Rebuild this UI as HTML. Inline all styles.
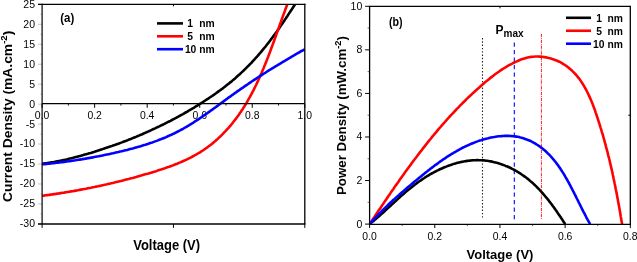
<!DOCTYPE html>
<html><head><meta charset="utf-8"><style>
html,body{margin:0;padding:0;background:#fff;}
body{width:637px;height:262px;overflow:hidden;}
svg{display:block;font-family:"Liberation Sans", sans-serif;}
</style></head><body>
<svg width="637" height="262" viewBox="0 0 637 262" xmlns="http://www.w3.org/2000/svg" font-family='"Liberation Sans", sans-serif' fill="#000"><g opacity="0.999">
<defs><clipPath id="ca"><rect x="42.10" y="4.35" width="262.70" height="219.55"/></clipPath>
<clipPath id="cb"><rect x="369.60" y="6.30" width="260.70" height="217.80"/></clipPath></defs>
<line x1="38.10" y1="4.35" x2="42.10" y2="4.35" stroke="#aaa" stroke-width="0.70"/>
<text x="35.00" y="7.75" font-size="10.50" text-anchor="end">25</text>
<line x1="40.10" y1="14.33" x2="42.10" y2="14.33" stroke="#bbb" stroke-width="0.60"/>
<line x1="38.10" y1="24.31" x2="42.10" y2="24.31" stroke="#aaa" stroke-width="0.70"/>
<text x="35.00" y="27.71" font-size="10.50" text-anchor="end">20</text>
<line x1="40.10" y1="34.29" x2="42.10" y2="34.29" stroke="#bbb" stroke-width="0.60"/>
<line x1="38.10" y1="44.27" x2="42.10" y2="44.27" stroke="#aaa" stroke-width="0.70"/>
<text x="35.00" y="47.67" font-size="10.50" text-anchor="end">15</text>
<line x1="40.10" y1="54.25" x2="42.10" y2="54.25" stroke="#bbb" stroke-width="0.60"/>
<line x1="38.10" y1="64.23" x2="42.10" y2="64.23" stroke="#aaa" stroke-width="0.70"/>
<text x="35.00" y="67.63" font-size="10.50" text-anchor="end">10</text>
<line x1="40.10" y1="74.21" x2="42.10" y2="74.21" stroke="#bbb" stroke-width="0.60"/>
<line x1="38.10" y1="84.19" x2="42.10" y2="84.19" stroke="#aaa" stroke-width="0.70"/>
<text x="35.00" y="87.59" font-size="10.50" text-anchor="end">5</text>
<line x1="40.10" y1="94.17" x2="42.10" y2="94.17" stroke="#bbb" stroke-width="0.60"/>
<line x1="38.10" y1="104.15" x2="42.10" y2="104.15" stroke="#aaa" stroke-width="0.70"/>
<text x="35.00" y="107.55" font-size="10.50" text-anchor="end">0</text>
<line x1="40.10" y1="114.12" x2="42.10" y2="114.12" stroke="#bbb" stroke-width="0.60"/>
<line x1="38.10" y1="124.10" x2="42.10" y2="124.10" stroke="#aaa" stroke-width="0.70"/>
<text x="35.00" y="127.50" font-size="10.50" text-anchor="end">-5</text>
<line x1="40.10" y1="134.08" x2="42.10" y2="134.08" stroke="#bbb" stroke-width="0.60"/>
<line x1="38.10" y1="144.06" x2="42.10" y2="144.06" stroke="#aaa" stroke-width="0.70"/>
<text x="35.00" y="147.46" font-size="10.50" text-anchor="end">-10</text>
<line x1="40.10" y1="154.04" x2="42.10" y2="154.04" stroke="#bbb" stroke-width="0.60"/>
<line x1="38.10" y1="164.02" x2="42.10" y2="164.02" stroke="#aaa" stroke-width="0.70"/>
<text x="35.00" y="167.42" font-size="10.50" text-anchor="end">-15</text>
<line x1="40.10" y1="174.00" x2="42.10" y2="174.00" stroke="#bbb" stroke-width="0.60"/>
<line x1="38.10" y1="183.98" x2="42.10" y2="183.98" stroke="#aaa" stroke-width="0.70"/>
<text x="35.00" y="187.38" font-size="10.50" text-anchor="end">-20</text>
<line x1="40.10" y1="193.96" x2="42.10" y2="193.96" stroke="#bbb" stroke-width="0.60"/>
<line x1="38.10" y1="203.94" x2="42.10" y2="203.94" stroke="#aaa" stroke-width="0.70"/>
<text x="35.00" y="207.34" font-size="10.50" text-anchor="end">-25</text>
<line x1="40.10" y1="213.92" x2="42.10" y2="213.92" stroke="#bbb" stroke-width="0.60"/>
<line x1="38.10" y1="223.90" x2="42.10" y2="223.90" stroke="#aaa" stroke-width="0.70"/>
<text x="35.00" y="227.30" font-size="10.50" text-anchor="end">-30</text>
<line x1="42.10" y1="103.60" x2="42.10" y2="107.80" stroke="#000" stroke-width="1.00"/>
<text x="42.10" y="119.00" font-size="10.40" text-anchor="middle">0.0</text>
<line x1="68.37" y1="103.60" x2="68.37" y2="105.60" stroke="#000" stroke-width="0.90"/>
<line x1="94.64" y1="103.60" x2="94.64" y2="107.80" stroke="#000" stroke-width="1.00"/>
<text x="94.64" y="119.00" font-size="10.40" text-anchor="middle">0.2</text>
<line x1="120.91" y1="103.60" x2="120.91" y2="105.60" stroke="#000" stroke-width="0.90"/>
<line x1="147.18" y1="103.60" x2="147.18" y2="107.80" stroke="#000" stroke-width="1.00"/>
<text x="147.18" y="119.00" font-size="10.40" text-anchor="middle">0.4</text>
<line x1="173.45" y1="103.60" x2="173.45" y2="105.60" stroke="#000" stroke-width="0.90"/>
<line x1="199.72" y1="103.60" x2="199.72" y2="107.80" stroke="#000" stroke-width="1.00"/>
<text x="199.72" y="119.00" font-size="10.40" text-anchor="middle">0.6</text>
<line x1="225.99" y1="103.60" x2="225.99" y2="105.60" stroke="#000" stroke-width="0.90"/>
<line x1="252.26" y1="103.60" x2="252.26" y2="107.80" stroke="#000" stroke-width="1.00"/>
<text x="252.26" y="119.00" font-size="10.40" text-anchor="middle">0.8</text>
<line x1="278.53" y1="103.60" x2="278.53" y2="105.60" stroke="#000" stroke-width="0.90"/>
<line x1="304.80" y1="103.60" x2="304.80" y2="107.80" stroke="#000" stroke-width="1.00"/>
<text x="304.80" y="119.00" font-size="10.40" text-anchor="middle">1.0</text>
<line x1="42.10" y1="223.90" x2="42.10" y2="227.90" stroke="#000" stroke-width="1.00"/>
<line x1="173.45" y1="223.90" x2="173.45" y2="227.90" stroke="#000" stroke-width="1.00"/>
<line x1="304.80" y1="223.90" x2="304.80" y2="227.90" stroke="#000" stroke-width="1.00"/>
<line x1="173.45" y1="4.35" x2="173.45" y2="6.35" stroke="#000" stroke-width="1.00"/>
<g clip-path="url(#ca)">
<path d="M42.1,163.8 L43.6,163.6 L45.2,163.4 L46.7,163.2 L48.3,162.9 L49.8,162.7 L51.4,162.4 L52.9,162.2 L54.4,161.9 L56.0,161.6 L57.5,161.3 L59.0,161.0 L60.5,160.7 L62.1,160.4 L63.6,160.0 L65.1,159.7 L66.6,159.4 L68.2,159.0 L69.7,158.6 L71.2,158.3 L72.7,157.9 L74.2,157.5 L75.7,157.1 L77.3,156.7 L78.8,156.3 L80.3,155.9 L81.8,155.5 L83.3,155.1 L84.8,154.6 L86.3,154.2 L87.8,153.8 L89.3,153.3 L90.8,152.9 L92.3,152.4 L93.8,152.0 L95.3,151.5 L96.8,151.0 L98.3,150.6 L99.8,150.1 L101.3,149.6 L102.7,149.1 L104.2,148.6 L105.7,148.1 L107.2,147.6 L108.7,147.1 L110.2,146.6 L111.6,146.1 L113.1,145.6 L114.6,145.1 L116.1,144.5 L117.5,144.0 L119.0,143.5 L120.5,142.9 L121.9,142.4 L123.4,141.8 L124.9,141.2 L126.3,140.7 L127.8,140.1 L129.2,139.5 L130.7,139.0 L132.1,138.4 L133.6,137.8 L135.0,137.2 L136.5,136.6 L137.9,136.0 L139.4,135.4 L140.8,134.8 L142.2,134.2 L143.7,133.5 L145.1,132.9 L146.5,132.3 L148.0,131.6 L149.4,131.0 L150.8,130.4 L152.2,129.7 L153.6,129.0 L155.1,128.4 L156.5,127.7 L157.9,127.0 L159.3,126.4 L160.7,125.7 L162.1,125.0 L163.5,124.3 L164.9,123.6 L166.3,122.9 L167.7,122.2 L169.1,121.5 L170.5,120.8 L171.9,120.0 L173.2,119.3 L174.6,118.6 L176.0,117.9 L177.4,117.1 L178.8,116.4 L180.1,115.6 L181.5,114.8 L182.9,114.1 L184.2,113.3 L185.6,112.5 L186.9,111.8 L188.3,111.0 L189.6,110.2 L191.0,109.4 L192.3,108.6 L193.7,107.8 L195.0,107.0 L196.3,106.2 L197.7,105.3 L199.0,104.5 L200.3,103.7 L201.7,102.8 L203.0,102.0 L204.3,101.2 L205.6,100.3 L206.9,99.4 L208.2,98.6 L209.5,97.7 L210.8,96.8 L212.1,96.0 L213.4,95.1 L214.7,94.2 L216.0,93.3 L217.2,92.4 L218.5,91.4 L219.8,90.5 L221.0,89.6 L222.3,88.7 L223.5,87.7 L224.8,86.8 L226.0,85.8 L227.2,84.8 L228.4,83.9 L229.6,82.9 L230.9,81.9 L232.1,80.9 L233.2,79.9 L234.4,78.9 L235.6,77.9 L236.8,76.8 L237.9,75.8 L239.1,74.8 L240.3,73.7 L241.4,72.6 L242.5,71.6 L243.7,70.5 L244.8,69.4 L245.9,68.3 L247.0,67.2 L248.1,66.1 L249.2,65.0 L250.3,63.9 L251.4,62.8 L252.4,61.6 L253.5,60.5 L254.5,59.3 L255.6,58.2 L256.6,57.0 L257.7,55.9 L258.7,54.7 L259.7,53.5 L260.7,52.3 L261.7,51.1 L262.7,49.9 L263.7,48.7 L264.7,47.5 L265.7,46.3 L266.7,45.0 L267.6,43.8 L268.6,42.6 L269.6,41.3 L270.5,40.1 L271.4,38.8 L272.4,37.6 L273.3,36.3 L274.2,35.1 L275.2,33.8 L276.1,32.5 L277.0,31.3 L277.9,30.0 L278.8,28.7 L279.7,27.4 L280.6,26.1 L281.5,24.8 L282.4,23.5 L283.2,22.2 L284.1,20.9 L285.0,19.6 L285.9,18.3 L286.7,17.0 L287.6,15.7 L288.4,14.4 L289.3,13.1 L290.2,11.8 L291.0,10.5 L291.9,9.2 L292.7,7.9 L293.6,6.6 L294.4,5.3 L295.2,4.0 L296.1,2.6 L296.5,2.0" fill="none" stroke="#000" stroke-width="2.60" stroke-linejoin="round"/>
<path d="M42.1,195.8 L43.8,195.6 L45.5,195.3 L47.2,195.1 L48.9,194.9 L50.6,194.6 L52.3,194.4 L54.0,194.1 L55.7,193.9 L57.4,193.6 L59.1,193.4 L60.8,193.1 L62.5,192.8 L64.2,192.6 L65.9,192.3 L67.6,192.0 L69.3,191.7 L71.0,191.4 L72.6,191.2 L74.3,190.9 L76.0,190.6 L77.7,190.3 L79.4,189.9 L81.1,189.6 L82.8,189.3 L84.4,189.0 L86.1,188.7 L87.8,188.3 L89.5,188.0 L91.1,187.7 L92.8,187.3 L94.5,187.0 L96.2,186.6 L97.8,186.3 L99.5,185.9 L101.2,185.6 L102.9,185.2 L104.5,184.8 L106.2,184.5 L107.9,184.1 L109.5,183.7 L111.2,183.3 L112.9,182.9 L114.5,182.5 L116.2,182.1 L117.9,181.7 L119.5,181.3 L121.2,180.9 L122.8,180.5 L124.5,180.1 L126.2,179.6 L127.8,179.2 L129.5,178.8 L131.1,178.3 L132.8,177.9 L134.5,177.4 L136.1,177.0 L137.8,176.5 L139.4,176.0 L141.1,175.6 L142.7,175.1 L144.4,174.6 L146.1,174.1 L147.7,173.7 L149.4,173.2 L151.0,172.7 L152.7,172.2 L154.3,171.7 L156.0,171.2 L157.6,170.6 L159.3,170.1 L160.9,169.6 L162.5,169.0 L164.2,168.5 L165.8,167.9 L167.4,167.3 L169.1,166.8 L170.7,166.2 L172.3,165.6 L173.9,165.0 L175.5,164.3 L177.1,163.7 L178.7,163.0 L180.3,162.4 L181.8,161.7 L183.4,161.0 L185.0,160.3 L186.5,159.6 L188.0,158.8 L189.6,158.1 L191.1,157.3 L192.6,156.5 L194.1,155.7 L195.6,154.9 L197.1,154.0 L198.5,153.2 L200.0,152.3 L201.4,151.4 L202.9,150.5 L204.3,149.5 L205.7,148.5 L207.1,147.5 L208.4,146.5 L209.8,145.5 L211.2,144.4 L212.5,143.4 L213.8,142.3 L215.1,141.2 L216.4,140.0 L217.7,138.9 L218.9,137.7 L220.2,136.6 L221.4,135.4 L222.6,134.2 L223.8,132.9 L225.0,131.7 L226.2,130.4 L227.3,129.2 L228.5,127.9 L229.6,126.6 L230.7,125.3 L231.8,124.0 L232.8,122.7 L233.9,121.3 L234.9,120.0 L236.0,118.6 L237.0,117.3 L238.0,115.9 L239.0,114.5 L239.9,113.1 L240.9,111.7 L241.8,110.3 L242.8,108.9 L243.7,107.4 L244.6,106.0 L245.5,104.5 L246.4,103.1 L247.2,101.6 L248.1,100.1 L248.9,98.7 L249.8,97.2 L250.6,95.7 L251.4,94.2 L252.2,92.6 L253.0,91.1 L253.8,89.6 L254.5,88.1 L255.3,86.5 L256.1,85.0 L256.8,83.4 L257.5,81.9 L258.3,80.3 L259.0,78.8 L259.7,77.2 L260.4,75.6 L261.1,74.0 L261.8,72.5 L262.4,70.9 L263.1,69.3 L263.8,67.7 L264.4,66.1 L265.1,64.5 L265.7,62.9 L266.4,61.3 L267.0,59.7 L267.6,58.1 L268.3,56.4 L268.9,54.8 L269.5,53.2 L270.1,51.6 L270.7,50.0 L271.3,48.3 L271.9,46.7 L272.5,45.1 L273.1,43.5 L273.7,41.8 L274.3,40.2 L274.9,38.6 L275.5,37.0 L276.1,35.4 L276.6,33.7 L277.2,32.1 L277.8,30.5 L278.4,28.9 L279.0,27.3 L279.5,25.6 L280.1,24.0 L280.7,22.4 L281.3,20.8 L281.8,19.2 L282.4,17.6 L283.0,16.0 L283.6,14.4 L284.2,12.8 L284.8,11.2 L285.3,9.6 L285.9,8.1 L286.5,6.5 L287.1,4.9 L287.7,3.3 L288.0,2.6" fill="none" stroke="#f00" stroke-width="2.60" stroke-linejoin="round"/>
<path d="M42.1,164.4 L43.6,164.3 L45.0,164.1 L46.5,164.0 L47.9,163.8 L49.4,163.7 L50.8,163.5 L52.3,163.3 L53.7,163.2 L55.2,163.0 L56.6,162.8 L58.1,162.6 L59.5,162.5 L61.0,162.3 L62.4,162.1 L63.9,161.9 L65.3,161.7 L66.8,161.5 L68.2,161.3 L69.7,161.1 L71.1,160.9 L72.6,160.7 L74.0,160.5 L75.4,160.3 L76.9,160.0 L78.3,159.8 L79.8,159.6 L81.2,159.4 L82.7,159.1 L84.1,158.9 L85.6,158.6 L87.0,158.4 L88.4,158.1 L89.9,157.9 L91.3,157.6 L92.8,157.4 L94.2,157.1 L95.6,156.8 L97.1,156.5 L98.5,156.3 L100.0,156.0 L101.4,155.7 L102.8,155.4 L104.3,155.1 L105.7,154.8 L107.1,154.5 L108.6,154.2 L110.0,153.9 L111.4,153.6 L112.9,153.3 L114.3,152.9 L115.7,152.6 L117.2,152.3 L118.6,152.0 L120.0,151.6 L121.5,151.3 L122.9,150.9 L124.3,150.6 L125.7,150.2 L127.2,149.9 L128.6,149.5 L130.0,149.1 L131.4,148.7 L132.8,148.4 L134.3,148.0 L135.7,147.6 L137.1,147.2 L138.5,146.8 L139.9,146.4 L141.3,146.0 L142.7,145.5 L144.1,145.1 L145.5,144.7 L146.9,144.2 L148.3,143.8 L149.7,143.3 L151.1,142.8 L152.5,142.4 L153.8,141.9 L155.2,141.4 L156.6,140.9 L157.9,140.4 L159.3,139.8 L160.7,139.3 L162.0,138.8 L163.4,138.2 L164.7,137.7 L166.1,137.1 L167.4,136.5 L168.7,135.9 L170.0,135.3 L171.4,134.7 L172.7,134.1 L174.0,133.5 L175.3,132.8 L176.6,132.2 L177.9,131.5 L179.2,130.8 L180.4,130.2 L181.7,129.5 L183.0,128.8 L184.3,128.0 L185.5,127.3 L186.8,126.6 L188.0,125.8 L189.3,125.1 L190.5,124.3 L191.7,123.6 L193.0,122.8 L194.2,122.0 L195.4,121.2 L196.7,120.4 L197.9,119.6 L199.1,118.8 L200.3,118.0 L201.5,117.2 L202.7,116.3 L203.9,115.5 L205.1,114.7 L206.3,113.8 L207.5,113.0 L208.7,112.1 L209.9,111.3 L211.1,110.4 L212.3,109.6 L213.5,108.7 L214.7,107.8 L215.9,107.0 L217.1,106.1 L218.3,105.2 L219.4,104.4 L220.6,103.5 L221.8,102.6 L223.0,101.8 L224.2,100.9 L225.4,100.0 L226.6,99.2 L227.7,98.3 L228.9,97.4 L230.1,96.6 L231.3,95.7 L232.5,94.8 L233.7,94.0 L234.9,93.1 L236.1,92.3 L237.3,91.4 L238.5,90.6 L239.7,89.8 L240.9,88.9 L242.1,88.1 L243.3,87.3 L244.5,86.4 L245.7,85.6 L246.9,84.8 L248.1,84.0 L249.3,83.1 L250.5,82.3 L251.7,81.5 L253.0,80.7 L254.2,79.9 L255.4,79.1 L256.6,78.3 L257.8,77.5 L259.1,76.7 L260.3,75.9 L261.5,75.1 L262.7,74.3 L264.0,73.5 L265.2,72.8 L266.4,72.0 L267.7,71.2 L268.9,70.4 L270.1,69.7 L271.4,68.9 L272.6,68.1 L273.9,67.4 L275.1,66.6 L276.4,65.8 L277.6,65.1 L278.9,64.3 L280.1,63.6 L281.4,62.8 L282.6,62.0 L283.9,61.3 L285.1,60.6 L286.4,59.8 L287.6,59.1 L288.9,58.3 L290.2,57.6 L291.4,56.8 L292.7,56.1 L294.0,55.4 L295.2,54.6 L296.5,53.9 L297.8,53.2 L299.1,52.5 L300.3,51.7 L301.6,51.0 L302.9,50.3 L304.2,49.6 L304.8,49.2" fill="none" stroke="#00f" stroke-width="2.60" stroke-linejoin="round"/>
</g>
<line x1="42.10" y1="103.60" x2="304.80" y2="103.60" stroke="#000" stroke-width="1.30"/>
<line x1="38.00" y1="4.35" x2="305.45" y2="4.35" stroke="#000" stroke-width="1.30"/>
<line x1="38.00" y1="224.00" x2="305.45" y2="224.00" stroke="#000" stroke-width="1.50"/>
<line x1="42.10" y1="3.70" x2="42.10" y2="223.90" stroke="#000" stroke-width="1.20"/>
<line x1="304.80" y1="3.70" x2="304.80" y2="223.90" stroke="#000" stroke-width="1.30"/>
<line x1="157.00" y1="23.40" x2="183.00" y2="23.40" stroke="#000" stroke-width="2.60"/>
<text x="187.20" y="27.20" font-size="10.30" font-weight="bold">1</text>
<text x="199.20" y="27.20" font-size="10.30" font-weight="bold">nm</text>
<line x1="157.00" y1="36.30" x2="183.00" y2="36.30" stroke="#f00" stroke-width="2.60"/>
<text x="187.20" y="40.10" font-size="10.30" font-weight="bold">5</text>
<text x="199.20" y="40.10" font-size="10.30" font-weight="bold">nm</text>
<line x1="157.00" y1="49.20" x2="183.00" y2="49.20" stroke="#00f" stroke-width="2.60"/>
<text x="184.90" y="53.00" font-size="10.30" font-weight="bold">10</text>
<text x="199.20" y="53.00" font-size="10.30" font-weight="bold">nm</text>
<text transform="translate(60.2,22.2) scale(1,1.06)" font-size="11.5" font-weight="bold">(a)</text>
<text transform="translate(133.2,249.6) scale(1,1.08)" font-size="13.00" font-weight="bold">Voltage (V)</text>
<text transform="translate(12.1,202.00) scale(1,1.064) rotate(-90)" font-size="13.00" font-weight="bold">Current Density (mA.cm<tspan font-size="9" dy="-5">-2</tspan><tspan dy="5">)</tspan></text>
<line x1="365.10" y1="224.10" x2="369.60" y2="224.10" stroke="#000" stroke-width="1.00"/>
<text x="362.30" y="227.50" font-size="10.50" text-anchor="end">0</text>
<line x1="367.60" y1="202.32" x2="369.60" y2="202.32" stroke="#444" stroke-width="0.80"/>
<line x1="365.10" y1="180.54" x2="369.60" y2="180.54" stroke="#000" stroke-width="1.00"/>
<text x="362.30" y="183.94" font-size="10.50" text-anchor="end">2</text>
<line x1="367.60" y1="158.76" x2="369.60" y2="158.76" stroke="#444" stroke-width="0.80"/>
<line x1="365.10" y1="136.98" x2="369.60" y2="136.98" stroke="#000" stroke-width="1.00"/>
<text x="362.30" y="140.38" font-size="10.50" text-anchor="end">4</text>
<line x1="367.60" y1="115.20" x2="369.60" y2="115.20" stroke="#444" stroke-width="0.80"/>
<line x1="365.10" y1="93.42" x2="369.60" y2="93.42" stroke="#000" stroke-width="1.00"/>
<text x="362.30" y="96.82" font-size="10.50" text-anchor="end">6</text>
<line x1="367.60" y1="71.64" x2="369.60" y2="71.64" stroke="#444" stroke-width="0.80"/>
<line x1="365.10" y1="49.86" x2="369.60" y2="49.86" stroke="#000" stroke-width="1.00"/>
<text x="362.30" y="53.26" font-size="10.50" text-anchor="end">8</text>
<line x1="367.60" y1="28.08" x2="369.60" y2="28.08" stroke="#444" stroke-width="0.80"/>
<line x1="365.10" y1="6.30" x2="369.60" y2="6.30" stroke="#000" stroke-width="1.00"/>
<text x="362.30" y="9.70" font-size="10.50" text-anchor="end">10</text>
<line x1="369.60" y1="224.10" x2="369.60" y2="228.10" stroke="#000" stroke-width="1.00"/>
<text x="369.60" y="239.60" font-size="10.40" text-anchor="middle">0.0</text>
<line x1="402.19" y1="224.10" x2="402.19" y2="226.10" stroke="#444" stroke-width="0.80"/>
<line x1="434.77" y1="224.10" x2="434.77" y2="228.10" stroke="#000" stroke-width="1.00"/>
<text x="434.77" y="239.60" font-size="10.40" text-anchor="middle">0.2</text>
<line x1="467.36" y1="224.10" x2="467.36" y2="226.10" stroke="#444" stroke-width="0.80"/>
<line x1="499.95" y1="224.10" x2="499.95" y2="228.10" stroke="#000" stroke-width="1.00"/>
<text x="499.95" y="239.60" font-size="10.40" text-anchor="middle">0.4</text>
<line x1="532.54" y1="224.10" x2="532.54" y2="226.10" stroke="#444" stroke-width="0.80"/>
<line x1="565.12" y1="224.10" x2="565.12" y2="228.10" stroke="#000" stroke-width="1.00"/>
<text x="565.12" y="239.60" font-size="10.40" text-anchor="middle">0.6</text>
<line x1="597.71" y1="224.10" x2="597.71" y2="226.10" stroke="#444" stroke-width="0.80"/>
<line x1="630.30" y1="224.10" x2="630.30" y2="228.10" stroke="#000" stroke-width="1.00"/>
<text x="630.30" y="239.60" font-size="10.40" text-anchor="middle">0.8</text>
<line x1="499.95" y1="6.30" x2="499.95" y2="8.30" stroke="#000" stroke-width="1.00"/>
<line x1="628.30" y1="115.20" x2="630.30" y2="115.20" stroke="#000" stroke-width="1.00"/>
<line x1="482.50" y1="38.00" x2="482.50" y2="218.60" stroke="#222" stroke-width="1.10" stroke-dasharray="1.4 1.9"/>
<line x1="514.30" y1="42.50" x2="514.30" y2="222.20" stroke="#00f" stroke-width="1.10" stroke-dasharray="4.2 3.3"/>
<line x1="541.40" y1="34.00" x2="541.40" y2="219.30" stroke="#f00" stroke-width="0.90" stroke-dasharray="3.2 0.9 0.8 0.9"/>
<g clip-path="url(#cb)">
<path d="M369.6,224.1 L370.5,223.4 L371.5,222.6 L372.4,221.9 L373.3,221.1 L374.2,220.4 L375.1,219.6 L376.0,218.8 L376.9,218.0 L377.8,217.3 L378.7,216.5 L379.6,215.7 L380.5,214.9 L381.4,214.1 L382.3,213.3 L383.2,212.5 L384.1,211.7 L385.0,210.9 L385.8,210.0 L386.7,209.2 L387.6,208.4 L388.5,207.6 L389.4,206.8 L390.3,206.0 L391.2,205.1 L392.0,204.3 L392.9,203.5 L393.8,202.7 L394.7,201.9 L395.6,201.0 L396.5,200.2 L397.4,199.4 L398.3,198.6 L399.2,197.8 L400.1,196.9 L401.0,196.1 L401.9,195.3 L402.9,194.5 L403.8,193.7 L404.7,192.9 L405.6,192.1 L406.5,191.3 L407.5,190.5 L408.4,189.8 L409.4,189.0 L410.3,188.2 L411.3,187.4 L412.2,186.7 L413.2,185.9 L414.2,185.2 L415.1,184.4 L416.1,183.7 L417.1,182.9 L418.1,182.2 L419.1,181.5 L420.1,180.8 L421.2,180.1 L422.2,179.4 L423.2,178.7 L424.3,178.0 L425.3,177.3 L426.3,176.7 L427.4,176.0 L428.5,175.4 L429.5,174.7 L430.6,174.1 L431.7,173.5 L432.8,172.9 L433.9,172.3 L435.0,171.7 L436.1,171.2 L437.2,170.6 L438.3,170.1 L439.4,169.5 L440.5,169.0 L441.7,168.5 L442.8,168.0 L443.9,167.5 L445.1,167.0 L446.2,166.6 L447.4,166.1 L448.5,165.7 L449.7,165.3 L450.8,164.9 L452.0,164.5 L453.1,164.1 L454.3,163.8 L455.5,163.4 L456.6,163.1 L457.8,162.8 L459.0,162.5 L460.1,162.2 L461.3,161.9 L462.5,161.7 L463.7,161.5 L464.9,161.3 L466.0,161.1 L467.2,160.9 L468.4,160.7 L469.6,160.6 L470.8,160.5 L471.9,160.4 L473.1,160.3 L474.3,160.2 L475.5,160.2 L476.7,160.1 L477.9,160.1 L479.0,160.2 L480.2,160.2 L481.4,160.2 L482.6,160.3 L483.8,160.4 L484.9,160.5 L486.1,160.7 L487.3,160.8 L488.5,161.0 L489.6,161.2 L490.8,161.4 L492.0,161.6 L493.1,161.9 L494.3,162.2 L495.4,162.5 L496.6,162.8 L497.7,163.1 L498.9,163.4 L500.0,163.8 L501.2,164.2 L502.3,164.6 L503.4,165.0 L504.5,165.4 L505.6,165.9 L506.8,166.3 L507.9,166.8 L509.0,167.3 L510.1,167.8 L511.2,168.3 L512.2,168.9 L513.3,169.4 L514.4,170.0 L515.5,170.6 L516.5,171.2 L517.6,171.8 L518.6,172.5 L519.7,173.1 L520.7,173.8 L521.7,174.5 L522.7,175.2 L523.7,175.9 L524.7,176.6 L525.7,177.3 L526.7,178.1 L527.7,178.8 L528.6,179.6 L529.6,180.4 L530.5,181.2 L531.5,182.0 L532.4,182.8 L533.3,183.6 L534.2,184.5 L535.1,185.3 L536.0,186.2 L536.9,187.1 L537.8,188.0 L538.6,188.8 L539.5,189.7 L540.3,190.7 L541.2,191.6 L542.0,192.5 L542.8,193.4 L543.6,194.4 L544.4,195.3 L545.2,196.3 L546.0,197.2 L546.8,198.2 L547.6,199.1 L548.4,200.1 L549.1,201.1 L549.9,202.1 L550.6,203.0 L551.4,204.0 L552.1,205.0 L552.8,206.0 L553.6,207.0 L554.3,208.0 L555.0,209.0 L555.7,210.0 L556.4,210.9 L557.1,211.9 L557.7,212.9 L558.4,213.9 L559.1,214.9 L559.8,215.9 L560.4,216.9 L561.1,217.8 L561.7,218.8 L562.4,219.8 L563.0,220.8 L563.6,221.7 L564.3,222.7 L564.9,223.6 L565.2,224.1" fill="none" stroke="#000" stroke-width="2.60" stroke-linejoin="round"/>
<path d="M369.6,224.1 L370.8,222.2 L372.1,220.4 L373.3,218.5 L374.6,216.7 L375.8,214.8 L377.0,213.0 L378.3,211.1 L379.5,209.3 L380.8,207.4 L382.0,205.5 L383.3,203.7 L384.5,201.9 L385.8,200.0 L387.0,198.2 L388.3,196.3 L389.6,194.5 L390.8,192.6 L392.1,190.8 L393.4,189.0 L394.6,187.1 L395.9,185.3 L397.2,183.5 L398.5,181.7 L399.7,179.8 L401.0,178.0 L402.3,176.2 L403.6,174.4 L404.9,172.6 L406.2,170.8 L407.5,169.0 L408.8,167.2 L410.2,165.4 L411.5,163.6 L412.8,161.8 L414.1,160.0 L415.5,158.2 L416.8,156.5 L418.1,154.7 L419.5,152.9 L420.9,151.2 L422.2,149.4 L423.6,147.6 L425.0,145.9 L426.3,144.2 L427.7,142.4 L429.1,140.7 L430.5,139.0 L431.9,137.2 L433.3,135.5 L434.7,133.8 L436.2,132.1 L437.6,130.4 L439.0,128.7 L440.5,127.0 L441.9,125.3 L443.4,123.7 L444.9,122.0 L446.3,120.3 L447.8,118.7 L449.3,117.0 L450.8,115.4 L452.3,113.8 L453.9,112.1 L455.4,110.5 L456.9,108.9 L458.5,107.3 L460.0,105.7 L461.6,104.1 L463.2,102.5 L464.8,101.0 L466.3,99.4 L467.9,97.8 L469.6,96.3 L471.2,94.8 L472.8,93.2 L474.5,91.7 L476.1,90.2 L477.8,88.7 L479.5,87.2 L481.1,85.7 L482.8,84.2 L484.5,82.7 L486.3,81.3 L488.0,79.9 L489.8,78.4 L491.5,77.1 L493.3,75.7 L495.1,74.3 L496.9,73.0 L498.8,71.7 L500.6,70.4 L502.5,69.2 L504.4,68.0 L506.3,66.8 L508.2,65.7 L510.2,64.6 L512.2,63.6 L514.2,62.5 L516.2,61.6 L518.3,60.7 L520.3,59.8 L522.4,59.1 L524.6,58.4 L526.7,57.8 L528.9,57.3 L531.1,56.9 L533.3,56.7 L535.5,56.5 L537.7,56.5 L539.9,56.6 L542.1,56.8 L544.3,57.1 L546.5,57.4 L548.7,57.9 L550.9,58.5 L553.0,59.2 L555.1,60.0 L557.2,60.8 L559.2,61.7 L561.1,62.7 L563.0,63.8 L564.9,65.0 L566.7,66.2 L568.4,67.5 L570.1,68.9 L571.7,70.3 L573.2,71.8 L574.7,73.4 L576.2,75.0 L577.5,76.6 L578.9,78.3 L580.2,80.1 L581.4,81.9 L582.6,83.7 L583.8,85.6 L584.9,87.6 L586.0,89.5 L587.0,91.5 L588.0,93.5 L589.0,95.6 L589.9,97.6 L590.8,99.7 L591.7,101.8 L592.6,104.0 L593.4,106.1 L594.2,108.3 L595.0,110.4 L595.7,112.6 L596.5,114.8 L597.2,117.0 L597.9,119.1 L598.6,121.3 L599.3,123.5 L600.0,125.6 L600.6,127.8 L601.3,129.9 L601.9,132.1 L602.6,134.2 L603.2,136.4 L603.8,138.5 L604.4,140.7 L605.0,142.8 L605.6,144.9 L606.1,147.1 L606.7,149.2 L607.3,151.3 L607.8,153.4 L608.3,155.6 L608.9,157.7 L609.4,159.8 L609.9,162.0 L610.4,164.1 L610.9,166.2 L611.4,168.4 L611.9,170.5 L612.4,172.6 L612.8,174.8 L613.3,176.9 L613.7,179.0 L614.2,181.2 L614.6,183.3 L615.1,185.5 L615.5,187.7 L615.9,189.8 L616.4,192.0 L616.8,194.2 L617.2,196.3 L617.6,198.5 L618.0,200.7 L618.4,202.9 L618.8,205.1 L619.2,207.3 L619.6,209.5 L620.0,211.8 L620.4,214.0 L620.7,216.2 L621.1,218.5 L621.5,220.7 L621.9,223.0 L622.1,224.1" fill="none" stroke="#f00" stroke-width="2.60" stroke-linejoin="round"/>
<path d="M369.6,224.1 L370.6,223.0 L371.6,221.8 L372.6,220.7 L373.6,219.6 L374.6,218.5 L375.6,217.4 L376.7,216.3 L377.7,215.3 L378.7,214.2 L379.7,213.1 L380.8,212.1 L381.8,211.0 L382.9,210.0 L383.9,208.9 L385.0,207.9 L386.0,206.9 L387.1,205.9 L388.1,204.8 L389.2,203.8 L390.3,202.8 L391.4,201.8 L392.4,200.8 L393.5,199.8 L394.6,198.9 L395.7,197.9 L396.8,196.9 L397.9,195.9 L399.0,195.0 L400.1,194.0 L401.2,193.0 L402.3,192.1 L403.4,191.1 L404.5,190.1 L405.6,189.2 L406.7,188.2 L407.8,187.3 L409.0,186.3 L410.1,185.4 L411.2,184.4 L412.3,183.5 L413.5,182.5 L414.6,181.6 L415.7,180.7 L416.9,179.7 L418.0,178.8 L419.2,177.8 L420.3,176.9 L421.5,176.0 L422.6,175.0 L423.8,174.1 L424.9,173.1 L426.1,172.2 L427.3,171.3 L428.4,170.4 L429.6,169.5 L430.8,168.5 L432.0,167.6 L433.2,166.7 L434.4,165.8 L435.6,164.9 L436.8,164.1 L438.0,163.2 L439.2,162.3 L440.4,161.4 L441.6,160.6 L442.8,159.7 L444.1,158.9 L445.3,158.1 L446.5,157.2 L447.8,156.4 L449.0,155.6 L450.3,154.8 L451.5,154.0 L452.8,153.3 L454.1,152.5 L455.4,151.8 L456.7,151.0 L458.0,150.3 L459.3,149.6 L460.6,148.9 L461.9,148.2 L463.2,147.5 L464.5,146.9 L465.9,146.2 L467.2,145.6 L468.6,145.0 L469.9,144.4 L471.3,143.8 L472.7,143.2 L474.0,142.7 L475.4,142.1 L476.8,141.6 L478.2,141.1 L479.7,140.6 L481.1,140.2 L482.5,139.7 L484.0,139.3 L485.4,138.9 L486.9,138.5 L488.3,138.2 L489.8,137.8 L491.2,137.5 L492.7,137.2 L494.2,137.0 L495.7,136.7 L497.1,136.5 L498.6,136.3 L500.1,136.2 L501.6,136.1 L503.1,136.0 L504.5,135.9 L506.0,135.9 L507.5,135.9 L508.9,135.9 L510.4,136.0 L511.9,136.1 L513.3,136.2 L514.7,136.4 L516.2,136.6 L517.6,136.8 L519.0,137.1 L520.4,137.5 L521.8,137.8 L523.2,138.2 L524.6,138.7 L526.0,139.2 L527.3,139.7 L528.7,140.2 L530.0,140.8 L531.3,141.4 L532.6,142.1 L533.9,142.8 L535.2,143.5 L536.4,144.3 L537.6,145.0 L538.8,145.9 L540.0,146.7 L541.2,147.6 L542.4,148.5 L543.5,149.4 L544.6,150.3 L545.7,151.3 L546.8,152.3 L547.8,153.3 L548.9,154.4 L549.9,155.4 L550.9,156.5 L551.9,157.6 L552.8,158.7 L553.8,159.9 L554.7,161.0 L555.7,162.2 L556.6,163.4 L557.5,164.6 L558.4,165.8 L559.2,167.1 L560.1,168.3 L560.9,169.6 L561.8,170.9 L562.6,172.1 L563.4,173.4 L564.2,174.7 L565.0,176.1 L565.7,177.4 L566.5,178.7 L567.3,180.0 L568.0,181.4 L568.8,182.7 L569.5,184.1 L570.2,185.4 L570.9,186.8 L571.6,188.1 L572.3,189.5 L573.0,190.9 L573.7,192.2 L574.4,193.6 L575.1,194.9 L575.8,196.3 L576.4,197.6 L577.1,199.0 L577.8,200.3 L578.4,201.6 L579.1,203.0 L579.8,204.3 L580.4,205.6 L581.1,206.9 L581.7,208.3 L582.4,209.6 L583.0,210.9 L583.7,212.2 L584.4,213.4 L585.0,214.7 L585.7,216.0 L586.3,217.3 L587.0,218.5 L587.7,219.8 L588.4,221.0 L589.1,222.3 L589.8,223.5 L590.1,224.1" fill="none" stroke="#00f" stroke-width="2.60" stroke-linejoin="round"/>
</g>
<line x1="368.95" y1="6.30" x2="630.95" y2="6.30" stroke="#000" stroke-width="1.30"/>
<line x1="368.95" y1="224.45" x2="630.95" y2="224.45" stroke="#000" stroke-width="1.20"/>
<line x1="369.60" y1="6.30" x2="369.60" y2="224.45" stroke="#000" stroke-width="1.30"/>
<line x1="630.30" y1="6.30" x2="630.30" y2="224.45" stroke="#000" stroke-width="1.30"/>
<line x1="566.00" y1="17.80" x2="591.00" y2="17.80" stroke="#000" stroke-width="2.60"/>
<text x="596.20" y="21.60" font-size="10.30" font-weight="bold">1</text>
<text x="607.40" y="21.60" font-size="10.30" font-weight="bold">nm</text>
<line x1="566.00" y1="30.75" x2="591.00" y2="30.75" stroke="#f00" stroke-width="2.60"/>
<text x="596.20" y="34.55" font-size="10.30" font-weight="bold">5</text>
<text x="607.40" y="34.55" font-size="10.30" font-weight="bold">nm</text>
<line x1="566.00" y1="43.70" x2="591.00" y2="43.70" stroke="#00f" stroke-width="2.60"/>
<text x="593.10" y="47.50" font-size="10.30" font-weight="bold">10</text>
<text x="607.40" y="47.50" font-size="10.30" font-weight="bold">nm</text>
<text transform="translate(389.0,25.9) scale(0.93,1.04)" font-size="11.5" font-weight="bold">(b)</text>
<text x="495.5" y="34" font-size="12" font-weight="bold">P<tspan font-size="10" dy="3">max</tspan></text>
<text x="466.50" y="258.90" font-size="13.00" font-weight="bold">Voltage (V)</text>
<text transform="translate(345.5,195.00) scale(1,1.023) rotate(-90)" font-size="13.00" font-weight="bold">Power Density (mW.cm<tspan font-size="9" dy="-5">-2</tspan><tspan dy="5">)</tspan></text>
</g></svg>
</body></html>
